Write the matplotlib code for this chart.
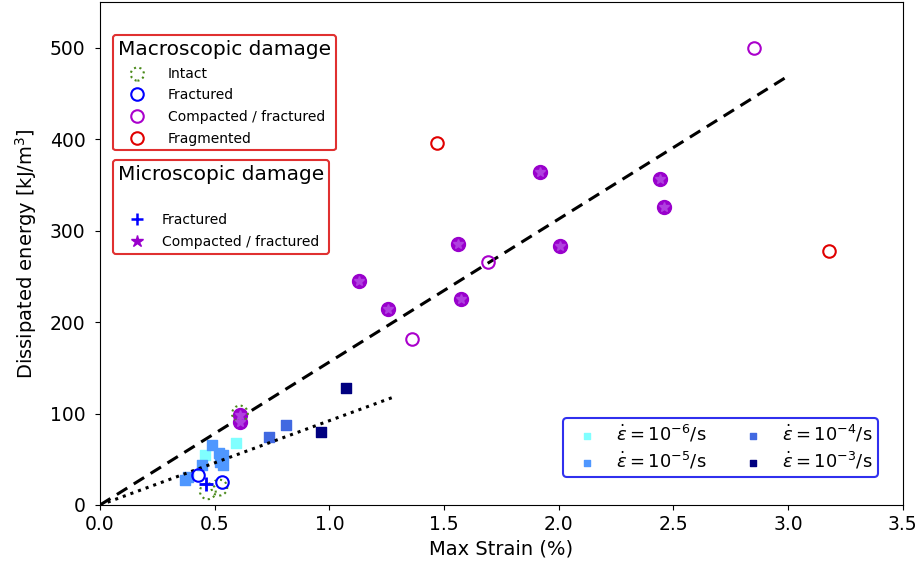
import matplotlib.pyplot as plt
from matplotlib.lines import Line2D

# Données (déformation max en %, énergie en kJ/m3)
# carrés : vitesse de déformation
x_r6 = [0.593, 0.458]
y_r6 = [68, 55]
x_r5 = [0.488, 0.519, 0.536, 0.523, 0.536, 0.445, 0.37, 0.384]
y_r5 = [66, 57, 55, 47, 44, 44, 27, 31]
x_r4 = [0.737, 0.81]
y_r4 = [74, 87]
x_r3 = [0.963, 1.072]
y_r3 = [80, 128]

# endommagement macroscopique
x_intact = [0.61, 0.47, 0.52]
y_intact = [100, 15, 19]
x_fract = [0.428, 0.533]
y_fract = [33, 25]
x_comp = [2.85, 1.69, 1.36]
y_comp = [500, 266, 182]
x_frag = [1.47, 3.18]
y_frag = [396, 278]

# endommagement microscopique
x_micro_fract = [0.462]
y_micro_fract = [23]
x_micro_comp = [1.92, 2.44, 2.46, 1.56, 2.005, 1.13, 1.255, 1.574, 0.61, 0.61]
y_micro_comp = [364, 357, 326, 285, 283, 245, 214, 225, 91, 98]

# droites d'ajustement
x_fit1 = [0, 3.0]
y_fit1 = [0, 469]
x_fit2 = [0, 1.28]
y_fit2 = [0, 118]

c6, c5, c4, c3 = '#80ffff', '#4f97ff', '#4169e1', '#000080'
green = '#4a8a1a'
purple = '#aa00cc'

fig = plt.figure(figsize=(9.22, 5.73), dpi=100)
ax = fig.add_axes([0.1085, 0.1187, 0.8705, 0.8778])

s_sq = 45
h6 = ax.scatter(x_r6, y_r6, marker='s', s=s_sq, color=c6, zorder=2)
h5 = ax.scatter(x_r5, y_r5, marker='s', s=s_sq, color=c5, zorder=2)
h4 = ax.scatter(x_r4, y_r4, marker='s', s=s_sq, color=c4, zorder=2)
h3 = ax.scatter(x_r3, y_r3, marker='s', s=s_sq, color=c3, zorder=2)

ax.plot(x_fit1, y_fit1, 'k--', lw=2.2, dashes=(4, 2.5), zorder=3)
ax.plot(x_fit2, y_fit2, 'k:', lw=2.2, zorder=3)

ms = 9
ax.plot(x_micro_comp, y_micro_comp, 'o', ms=ms + 1, color='#9900cc', zorder=4)
ax.plot(x_micro_comp, y_micro_comp, '*', ms=ms - 2, color='#b040e0', zorder=5)
ax.plot(x_micro_fract, y_micro_fract, '+', ms=ms + 1, mew=2, color='blue', zorder=5)

ax.scatter(x_intact, y_intact, s=130, facecolors='none', edgecolors=green,
           linestyles=':', linewidths=1.5, zorder=4)
ax.plot(x_fract, y_fract, 'o', ms=ms, mfc='none', mec='blue', mew=1.5, zorder=4)
ax.plot(x_comp, y_comp, 'o', ms=ms, mfc='none', mec=purple, mew=1.5, zorder=4)
ax.plot(x_frag, y_frag, 'o', ms=ms, mfc='none', mec='#e00000', mew=1.5, zorder=4)

ax.set_xlim(0, 3.5)
ax.set_ylim(0, 550)
ax.set_xticks([0, 0.5, 1.0, 1.5, 2.0, 2.5, 3.0, 3.5])
ax.set_yticks([0, 100, 200, 300, 400, 500])
ax.tick_params(labelsize=13.5)
ax.tick_params(axis='y', pad=7)
ax.set_xlabel('Max Strain (%)', fontsize=14)
ax.set_ylabel('Dissipated energy [kJ/m$^3$]', fontsize=14, labelpad=8)

# légende macroscopique
macro = [
    ax.scatter([], [], s=90, facecolors='none', edgecolors=green, linestyles=':', linewidths=1.5),
    Line2D([], [], ls='none', marker='o', ms=ms, mfc='none', mec='blue', mew=1.5),
    Line2D([], [], ls='none', marker='o', ms=ms, mfc='none', mec=purple, mew=1.5),
    Line2D([], [], ls='none', marker='o', ms=ms, mfc='none', mec='#e00000', mew=1.5),
]
leg1 = ax.legend(macro, ['Intact', 'Fractured', 'Compacted / fractured', 'Fragmented'],
                 title='Macroscopic damage', title_fontsize=14.5, fontsize=10,
                 loc='upper left', bbox_to_anchor=(0.016, 0.934), borderaxespad=0,
                 labelspacing=0.55, handletextpad=1.2, borderpad=0.35)
leg1.get_frame().set_edgecolor('#e03030')
leg1.get_frame().set_linewidth(1.5)
leg1.get_frame().set_alpha(1)
ax.add_artist(leg1)

micro = [
    Line2D([], [], ls='none', marker=None),
    Line2D([], [], ls='none', marker='+', ms=ms, mew=1.8, color='blue'),
    Line2D([], [], ls='none', marker='*', ms=ms, color='#9900cc'),
]
leg2 = ax.legend(micro, ['', 'Fractured', 'Compacted / fractured'],
                 title='Microscopic damage', title_fontsize=14.5, fontsize=10,
                 loc='upper left', bbox_to_anchor=(0.016, 0.686), borderaxespad=0,
                 labelspacing=0.55, handletextpad=0.8, borderpad=0.35)
leg2.get_frame().set_edgecolor('#e03030')
leg2.get_frame().set_linewidth(1.5)
leg2.get_frame().set_alpha(1)
ax.add_artist(leg2)

leg3 = ax.legend([h6, h5, h4, h3],
                 [r'$\dot{\varepsilon} = 10^{-6}$/s', r'$\dot{\varepsilon} = 10^{-5}$/s',
                  r'$\dot{\varepsilon} = 10^{-4}$/s', r'$\dot{\varepsilon} = 10^{-3}$/s'],
                 ncol=2, fontsize=13, loc='lower right', bbox_to_anchor=(0.969, 0.056),
                 borderaxespad=0, markerscale=0.6, columnspacing=1.6, handletextpad=0.6,
                 labelspacing=0.3, borderpad=0.3)
leg3.get_frame().set_edgecolor('#3030ee')
leg3.get_frame().set_linewidth(1.5)
leg3.get_frame().set_alpha(1)

fig.savefig('out.png', dpi=100)
